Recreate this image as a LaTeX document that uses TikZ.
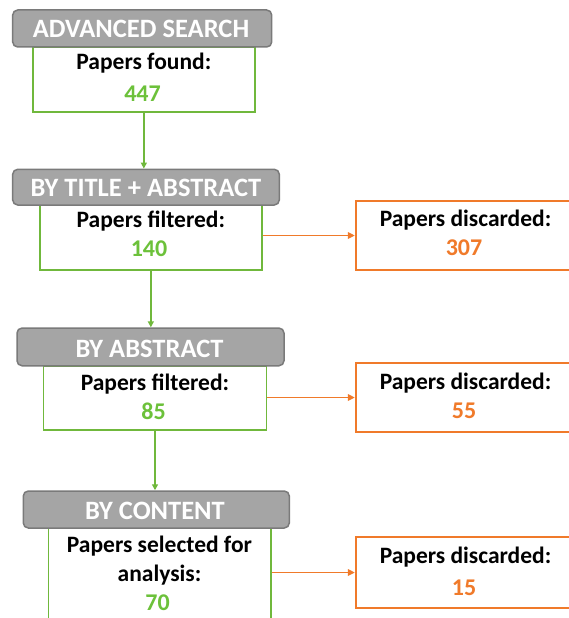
\documentclass[tikz,border=0pt]{standalone}
\usepackage{fontspec}
\setmainfont{Carlito}
\usetikzlibrary{arrows.meta}
\definecolor{hdrfill}{HTML}{A5A5A5}
\definecolor{hdrdraw}{HTML}{7A7A7A}
\definecolor{grn}{HTML}{70B83C}
\definecolor{grntxt}{HTML}{6CC13A}
\definecolor{org}{HTML}{F07A2A}
\tikzset{
  hdr/.style={draw=hdrdraw, fill=hdrfill, line width=1.5pt, rounded corners=5pt, inner sep=0pt},
  htxt/.style={text=white, font=\bfseries\fontsize{26.5}{26.5}\selectfont, inner sep=0pt, anchor=base},
  gbox/.style={draw=grn, line width=1.6pt, inner sep=0pt, fill=white},
  obox/.style={draw=org, line width=1.7pt, inner sep=0pt, fill=white},
  lbl/.style={font=\bfseries\fontsize{23.5}{23.5}\selectfont, text=black, inner sep=0pt, anchor=base},
  gnum/.style={font=\bfseries\fontsize{24}{24}\selectfont, text=grntxt, inner sep=0pt, anchor=base},
  onum/.style={font=\bfseries\fontsize{24}{24}\selectfont, text=org, inner sep=0pt, anchor=base},
  garr/.style={draw=grn, line width=1.4pt, -{Triangle[length=6pt,width=6pt]}},
  oarr/.style={draw=org, line width=1.6pt, -{Triangle[length=7pt,width=6.5pt]}},
}
\begin{document}
\begin{tikzpicture}[x=1pt,y=-1pt]
\useasboundingbox (0,0) rectangle (569,618);
% box 1
\node[gbox, minimum width=222.3pt, minimum height=65pt] (g1) at (143.85,79.5) {};
\node[hdr, minimum width=259pt, minimum height=37pt] (h1) at (142.2,28.5) {};
\node[htxt] (s1) at (141,37.3) {ADVANCED SEARCH};
\node[lbl] (t1) at (143.85,70) {Papers found:};
\node[gnum] (n1) at (142.5,101.5) {447};
% box 2
\node[gbox, minimum width=221.7pt, minimum height=65pt] (g2) at (150.85,237.5) {};
\node[hdr, minimum width=266.6pt, minimum height=35.7pt] (h2) at (146,187.15) {};
\node[htxt] (s2) at (146,196) {BY TITLE + ABSTRACT};
\node[lbl] (t2) at (150.85,227.3) {Papers filtered:};
\node[gnum] (n2) at (149,256.7) {140};
\node[obox, minimum width=250pt, minimum height=69pt] (o2) at (480.7,235.5) {};
\node[lbl] (d2) at (465.5,226.5) {Papers discarded:};
\node[onum] (m2) at (464,255) {307};
% box 3
\node[gbox, minimum width=223pt, minimum height=64pt] (g3) at (155,398) {};
\node[hdr, minimum width=267pt, minimum height=37.7pt] (h3) at (150.5,346.9) {};
\node[htxt] (s3) at (149.5,357.3) {BY ABSTRACT};
\node[lbl] (t3) at (155,390) {Papers filtered:};
\node[gnum] (n3) at (153.5,419) {85};
\node[obox, minimum width=250pt, minimum height=69pt] (o3) at (480.7,397.5) {};
\node[lbl] (d3) at (465.5,389.5) {Papers discarded:};
\node[onum] (m3) at (464,418.5) {55};
% box 4
\node[gbox, minimum width=222.4pt, minimum height=112pt] (g4) at (159.5,584) {};
\node[hdr, minimum width=266pt, minimum height=37pt] (h4) at (156.3,509.5) {};
\node[htxt] (s4) at (155,519) {BY CONTENT};
\node[lbl] (t4) at (159.5,552) {Papers selected for};
\node[lbl] (u4) at (159.5,581) {analysis:};
\node[gnum] (n4) at (157.5,610) {70};
\node[obox, minimum width=250pt, minimum height=71pt] (o4) at (480.7,572.5) {};
\node[lbl] (d4) at (465.5,563) {Papers discarded:};
\node[onum] (m4) at (464,595) {15};
% connectors
\draw[garr] (g1.south) -- (g1.south |- h2.north);
\draw[garr] (g2.south) -- (g2.south |- h3.north);
\draw[garr] (g3.south) -- (g3.south |- h4.north);
\draw[oarr] (g2.east |- o2.west) -- (o2.west);
\draw[oarr] (g3.east |- o3.west) -- (o3.west);
\draw[oarr] (o4.west -| g4.east) -- (o4.west);
\end{tikzpicture}
\end{document}
